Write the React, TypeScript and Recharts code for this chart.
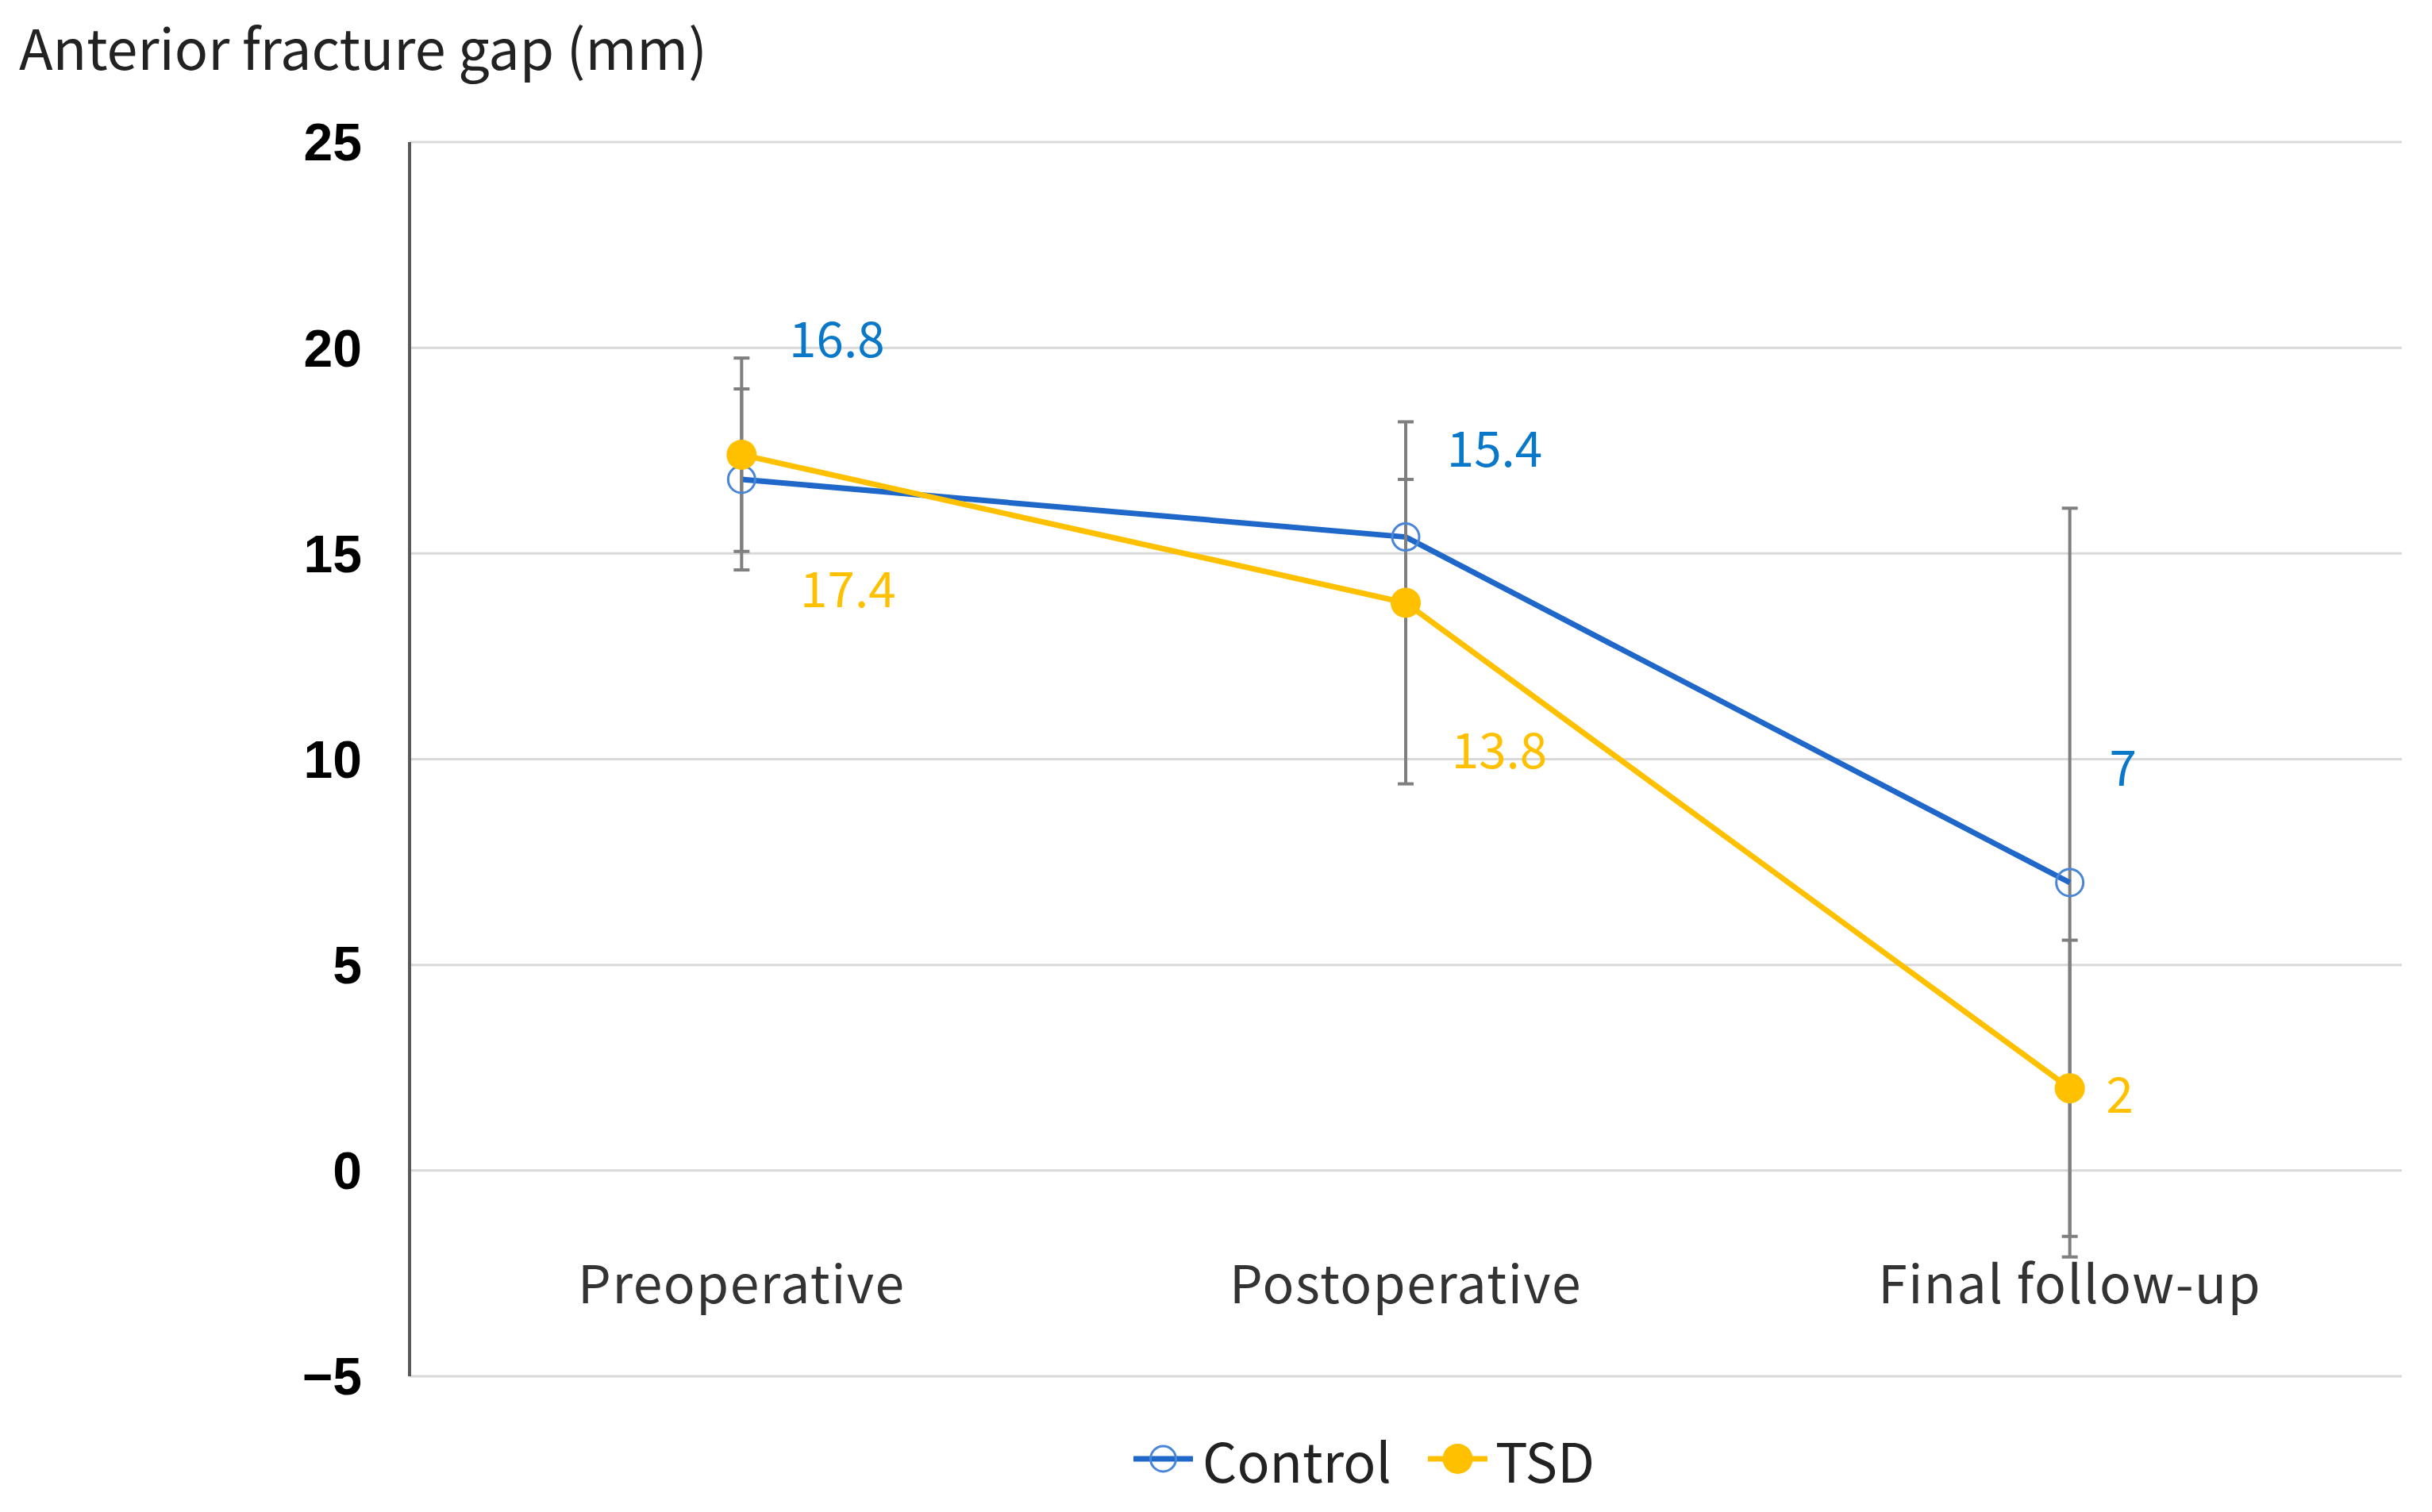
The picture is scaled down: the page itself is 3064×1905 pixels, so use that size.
import React from "react";
import { LineChart, Line, XAxis, YAxis, CartesianGrid, ErrorBar, LabelList, Legend } from "recharts";

const categories = ["Preoperative", "Postoperative", "Final follow-up"];
const controlMean = [16.8, 15.4, 7];
const tsdMean = [17.4, 13.8, 2];
const controlSd = [2.2, 1.4, 9.1];
const tsdSd = [2.35, 4.4, 3.6];
const yTicks = [-5, 0, 5, 10, 15, 20, 25];

const data = categories.map((name, i) => ({
    name,
    control: controlMean[i],
    tsd: tsdMean[i],
    controlSd: controlSd[i],
    tsdSd: tsdSd[i],
}));

// data labels were hand-placed in the original, so keep their offsets here
const controlLabelOffset = [[120, -181], [112, -116], [67, -149]];
const tsdLabelOffset = [[134, 165], [118, 181], [63, 4]];

const BLUE = "#1f68c9";
const BLUE_MARK = "#4a86d8";
const BLUE_TEXT = "#0a78c8";
const GOLD = "#ffc000";
const SANS = "'Noto Sans CJK JP', 'Noto Sans', sans-serif";

const makeLabel = (offsets: number[][], color: string) => (props: any) => {
    const { x, y, value, index } = props;
    const [dx, dy] = offsets[index];
    return (
        <text x={x + dx} y={y + dy} fill={color} fontSize={62} fontFamily={SANS}
            textAnchor="middle" dominantBaseline="central">
            {value}
        </text>
    );
};

const CategoryTick = (props: any) => {
    const { x, y, payload } = props;
    return (
        <text x={x} y={y - 100} textAnchor="middle" fontSize={66} letterSpacing={1.5} fontFamily={SANS} fill="#333">
            {payload.value}
        </text>
    );
};

const LegendContent = () => (
    <div style={{ display: "flex", alignItems: "center", height: 80, paddingLeft: 1420, fontFamily: SANS, fontSize: 68, color: "#222" }}>
        <svg width={75} height={40}>
            <line x1={0} y1={20} x2={75} y2={20} stroke={BLUE} strokeWidth={7} />
            <circle cx={37.5} cy={20} r={16} fill="none" stroke={BLUE_MARK} strokeWidth={3} />
        </svg>
        <span style={{ marginLeft: 12, marginRight: 46 }}>Control</span>
        <svg width={75} height={40}>
            <line x1={0} y1={20} x2={75} y2={20} stroke={GOLD} strokeWidth={7} />
            <circle cx={37.5} cy={20} r={19} fill={GOLD} />
        </svg>
        <span style={{ marginLeft: 10 }}>TSD</span>
    </div>
);

export default function App() {
    return (
        <div style={{ position: "relative", width: 3048, height: 1890, fontFamily: SANS, background: "#fff" }}>
            <div style={{ position: "absolute", left: 16, top: 15, fontSize: 70, lineHeight: 1, color: "#222", fontFamily: SANS }}>
                Anterior fracture gap (mm)
            </div>
            <LineChart width={3048} height={1890} data={data} margin={{ top: 171, right: 30, left: 0, bottom: 20 }}>
                <CartesianGrid vertical={false} stroke="#d9d9d9" strokeWidth={3} />
                <XAxis dataKey="name" scale="band" axisLine={false} tickLine={false} height={64} tick={<CategoryTick />} interval={0} />
                <YAxis
                    width={508}
                    domain={[-5, 25]}
                    ticks={yTicks}
                    interval={0}
                    axisLine={{ stroke: "#595959", strokeWidth: 4 }}
                    tickLine={false}
                    tickMargin={54}
                    tick={{ fontSize: 66, fontWeight: 700, fill: "#000", fontFamily: "'Liberation Sans', Arial, sans-serif" }}
                    tickFormatter={(v: number) => (v < 0 ? `\u2212${Math.abs(v)}` : `${v}`)}
                />
                <Legend verticalAlign="bottom" content={<LegendContent />} />
                <Line
                    dataKey="control"
                    stroke={BLUE}
                    strokeWidth={7}
                    dot={{ r: 17, fill: "none", stroke: BLUE_MARK, strokeWidth: 3 }}
                    activeDot={false}
                    isAnimationActive={false}
                >
                    <ErrorBar dataKey="controlSd" direction="y" width={10} stroke="#7f7f7f" strokeWidth={4} />
                    <LabelList dataKey="control" content={makeLabel(controlLabelOffset, BLUE_TEXT)} />
                </Line>
                <Line
                    dataKey="tsd"
                    stroke={GOLD}
                    strokeWidth={7}
                    dot={{ r: 19, fill: GOLD, stroke: GOLD, strokeWidth: 0 }}
                    activeDot={false}
                    isAnimationActive={false}
                >
                    <ErrorBar dataKey="tsdSd" direction="y" width={10} stroke="#7f7f7f" strokeWidth={4} />
                    <LabelList dataKey="tsd" content={makeLabel(tsdLabelOffset, GOLD)} />
                </Line>
            </LineChart>
        </div>
    );
}
